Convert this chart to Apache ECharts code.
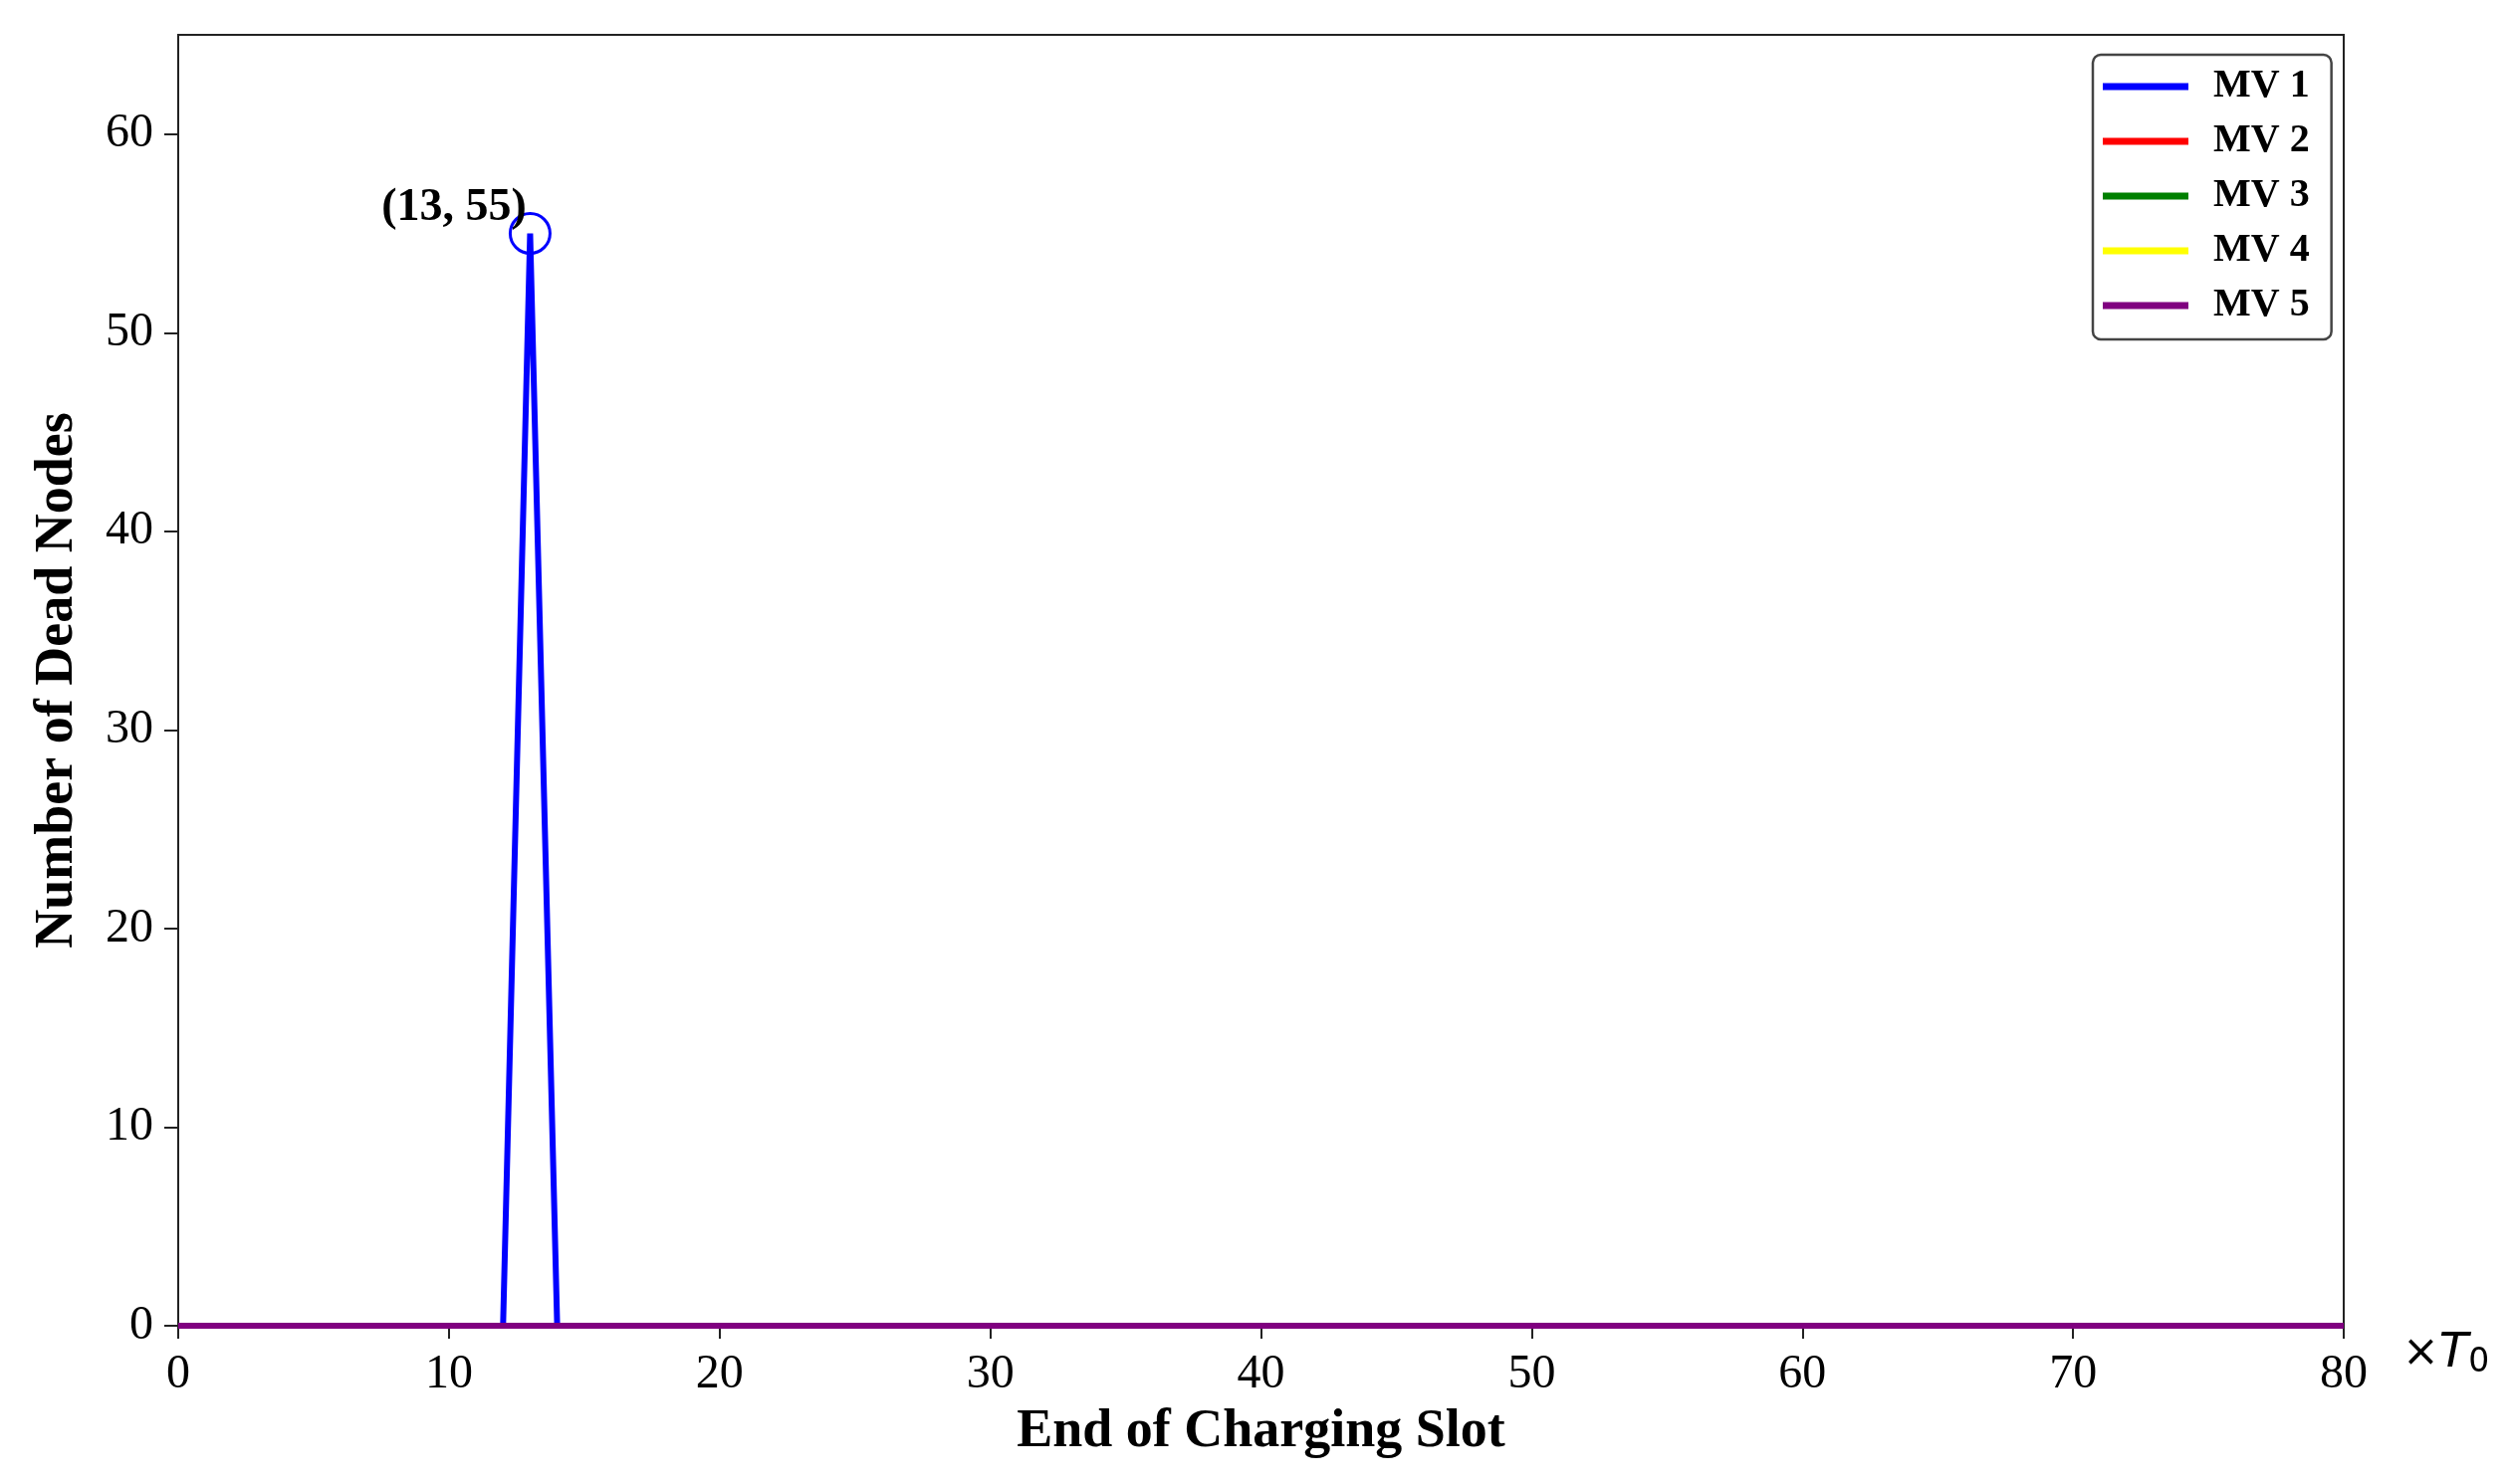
<!DOCTYPE html>
<html>
<head>
<meta charset="utf-8">
<script src="https://cdn.jsdelivr.net/npm/echarts@6/dist/echarts.min.js"></script>
<style>html,body{margin:0;padding:0;background:#fff;}#c{width:2520px;height:1491px;}</style>
</head>
<body>
<div id="c"></div>
<script>
// ---- data ----
const xSlots = Array.from({length: 81}, (_, i) => i); // 0..80 charging slots
const mv1 = xSlots.map(x => (x === 13 ? 55 : 0));
const mv2 = xSlots.map(() => 0);
const mv3 = xSlots.map(() => 0);
const mv4 = xSlots.map(() => 0);
const mv5 = xSlots.map(() => 0);
const seriesNames = ['MV 1', 'MV 2', 'MV 3', 'MV 4', 'MV 5'];
const seriesColors = ['#0000ff', '#ff0000', '#008000', '#ffff00', '#800080'];
const xTicks = [0, 10, 20, 30, 40, 50, 60, 70, 80];
const yTicks = [0, 10, 20, 30, 40, 50, 60];
const annotPoint = [13, 55];

const serif = '"Liberation Serif", "Times New Roman", serif';
const allData = [mv1, mv2, mv3, mv4, mv5];

const series = allData.map((d, i) => ({
  name: seriesNames[i],
  type: 'line',
  data: xSlots.map((x, j) => [x, d[j]]),
  symbol: 'none',
  lineStyle: {color: seriesColors[i], width: 6},
  itemStyle: {color: seriesColors[i]},
  z: 2 + i,
  animation: false
}));

series.push({
  name: 'annot',
  type: 'scatter',
  data: [annotPoint],
  symbol: 'circle',
  symbolSize: 40,
  itemStyle: {color: 'rgba(0,0,0,0)', borderColor: '#0000ff', borderWidth: 3, opacity: 1},
  label: {
    show: true,
    formatter: p => '(' + p.value[0] + ', ' + p.value[1] + ')',
    position: [18, -4],
    align: 'right',
    verticalAlign: 'middle',
    fontFamily: serif,
    fontWeight: 'bold',
    fontSize: 46,
    color: '#000'
  },
  z: 10,
  silent: true,
  animation: false
});

const chart = echarts.init(document.getElementById('c'));
chart.setOption({
  backgroundColor: '#fff',
  animation: false,
  grid: {left: 179, right: 166, top: 35, bottom: 159, show: true, borderColor: '#222', borderWidth: 2, backgroundColor: 'transparent'},
  legend: {
    data: seriesNames,
    orient: 'vertical',
    left: 2102,
    top: 55,
    icon: 'rect',
    itemWidth: 86,
    itemHeight: 7,
    itemGap: 13,
    padding: [11, 22, 13, 10],
    backgroundColor: '#fff',
    borderColor: '#444',
    borderWidth: 2.5,
    borderRadius: 8,
    textStyle: {fontFamily: serif, fontWeight: 'bold', fontSize: 40, lineHeight: 42, color: '#000', padding: [0, 0, 0, 20]}
  },
  xAxis: [{
    type: 'value',
    min: 0, max: 80, interval: 10,
    axisLine: {show: true, onZero: false, lineStyle: {color: '#222', width: 2}},
    axisTick: {show: true, inside: false, length: 13, lineStyle: {color: '#222', width: 2}, customValues: xTicks},
    axisLabel: {margin: 25, fontFamily: serif, fontSize: 48, color: '#000', customValues: xTicks},
    splitLine: {show: false},
    name: '{x|×}{t|T}{s|0}',
    nameLocation: 'end',
    nameGap: 59,
    nameTextStyle: {
      align: 'left', verticalAlign: 'middle', padding: [58, 0, 0, 0],
      rich: {
        x: {fontFamily: '"DejaVu Sans", sans-serif', fontSize: 44, color: '#000'},
        t: {fontFamily: '"DejaVu Sans", sans-serif', fontStyle: 'italic', fontSize: 48, color: '#000'},
        s: {fontFamily: '"DejaVu Sans", sans-serif', fontSize: 33, color: '#000', padding: [16, 0, 0, 0]}
      }
    }
  }, {
    type: 'value', min: 0, max: 80, position: 'bottom',
    axisLine: {show: false}, axisTick: {show: false}, axisLabel: {show: false}, splitLine: {show: false},
    name: 'End of Charging Slot', nameLocation: 'middle', nameGap: 80,
    nameTextStyle: {fontFamily: serif, fontWeight: 'bold', fontSize: 54, color: '#000'}
  }],
  yAxis: {
    type: 'value',
    min: 0, max: 65, interval: 10,
    axisLine: {show: true, onZero: false, lineStyle: {color: '#222', width: 2}},
    axisTick: {show: true, inside: false, length: 14, lineStyle: {color: '#222', width: 2}, customValues: yTicks},
    axisLabel: {margin: 25, fontFamily: serif, fontSize: 48, color: '#000', customValues: yTicks},
    splitLine: {show: false},
    name: 'Number of Dead Nodes',
    nameLocation: 'middle',
    nameGap: 94,
    nameTextStyle: {fontFamily: serif, fontWeight: 'bold', fontSize: 54, color: '#000'}
  },
  series: series
});
</script>
</body>
</html>
